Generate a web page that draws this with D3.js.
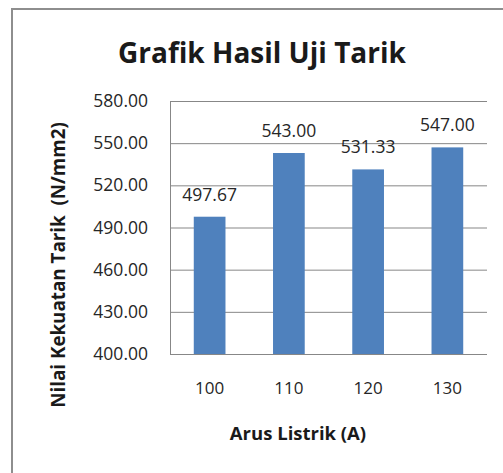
<!DOCTYPE html>
<html>
<head>
<meta charset="utf-8">
<script src="https://cdn.jsdelivr.net/npm/d3@7"></script>
<style>
  body { margin: 0; background: #fff; }
  svg { display: block; font-family: "Open Sans", sans-serif; }
</style>
</head>
<body>
<svg id="chart" width="503" height="473"></svg>
<script>
// data
var categories = ["100", "110", "120", "130"];
var values = [497.67, 543.00, 531.33, 547.00];
var valueLabels = ["497.67", "543.00", "531.33", "547.00"];
var yTicks = [400, 430, 460, 490, 520, 550, 580];

var svg = d3.select("#chart");
var plot = { left: 170, right: 487, top: 101, bottom: 354 };

// outer frame (only left and top edges show in the crop)
svg.append("path")
  .attr("d", "M12,473V9H503")
  .attr("fill", "none")
  .attr("stroke", "#8e8e8e")
  .attr("stroke-width", 2);

var x = d3.scaleBand()
  .domain(categories)
  .range([plot.left, plot.right])
  .paddingInner(0.6)
  .paddingOuter(0.3);

var y = d3.scaleLinear()
  .domain([400, 580])
  .range([plot.bottom, plot.top]);

// gridlines
svg.append("g")
  .selectAll("line")
  .data(yTicks)
  .enter().append("line")
  .attr("x1", plot.left)
  .attr("x2", plot.right)
  .attr("y1", function(d){ return y(d) + 0.5; })
  .attr("y2", function(d){ return y(d) + 0.5; })
  .attr("stroke", "#878787")
  .attr("stroke-width", 1);

// vertical axis line
svg.append("line")
  .attr("x1", plot.left + 0.5).attr("x2", plot.left + 0.5)
  .attr("y1", plot.top).attr("y2", plot.bottom + 1)
  .attr("stroke", "#878787");

// y tick labels
var yAxis = d3.axisLeft(y)
  .tickValues(yTicks)
  .tickFormat(d3.format(".2f"))
  .tickSize(0)
  .tickPadding(22);

svg.append("g")
  .attr("transform", "translate(" + plot.left + ",0)")
  .call(yAxis)
  .call(function(g){ g.select(".domain").remove(); })
  .selectAll("text")
  .attr("font-family", "Open Sans")
  .attr("font-size", 17.5)
  .attr("fill", "#262626");

// bars
svg.append("g")
  .selectAll("rect")
  .data(values)
  .enter().append("rect")
  .attr("x", function(d,i){ return x(categories[i]); })
  .attr("y", function(d){ return y(d); })
  .attr("width", x.bandwidth())
  .attr("height", function(d){ return plot.bottom - y(d); })
  .attr("fill", "#4f81bd");

// value labels
svg.append("g")
  .selectAll("text")
  .data(values)
  .enter().append("text")
  .attr("x", function(d,i){ return x(categories[i]) + x.bandwidth() / 2; })
  .attr("y", function(d){ return y(d) - 16; })
  .attr("text-anchor", "middle")
  .attr("font-size", 17.5)
  .attr("fill", "#262626")
  .text(function(d,i){ return valueLabels[i]; });

// x axis
var xAxis = d3.axisBottom(x).tickSize(0).tickPadding(28);
svg.append("g")
  .attr("transform", "translate(0," + plot.bottom + ")")
  .call(xAxis)
  .call(function(g){
    g.select(".domain").attr("stroke", "#878787").attr("d", "M" + plot.left + ",0.5H" + plot.right);
  })
  .selectAll("text")
  .attr("font-family", "Open Sans")
  .attr("font-size", 17)
  .attr("fill", "#262626");

// titles
svg.append("text")
  .attr("x", 262)
  .attr("y", 63)
  .attr("text-anchor", "middle")
  .attr("font-size", 28)
  .attr("font-weight", "bold")
  .attr("fill", "#1a1a1a")
  .text("Grafik Hasil Uji Tarik");

svg.append("text")
  .attr("x", 298)
  .attr("y", 440)
  .attr("text-anchor", "middle")
  .attr("font-size", 18.5)
  .attr("font-weight", "bold")
  .attr("fill", "#1a1a1a")
  .text("Arus Listrik (A)");

svg.append("text")
  .attr("transform", "translate(65,265) rotate(-90)")
  .attr("text-anchor", "middle")
  .attr("font-size", 18.8)
  .attr("font-weight", "bold")
  .attr("fill", "#1a1a1a")
  .style("white-space", "pre")
  .text("Nilai Kekuatan Tarik  (N/mm2)");
</script>
</body>
</html>
